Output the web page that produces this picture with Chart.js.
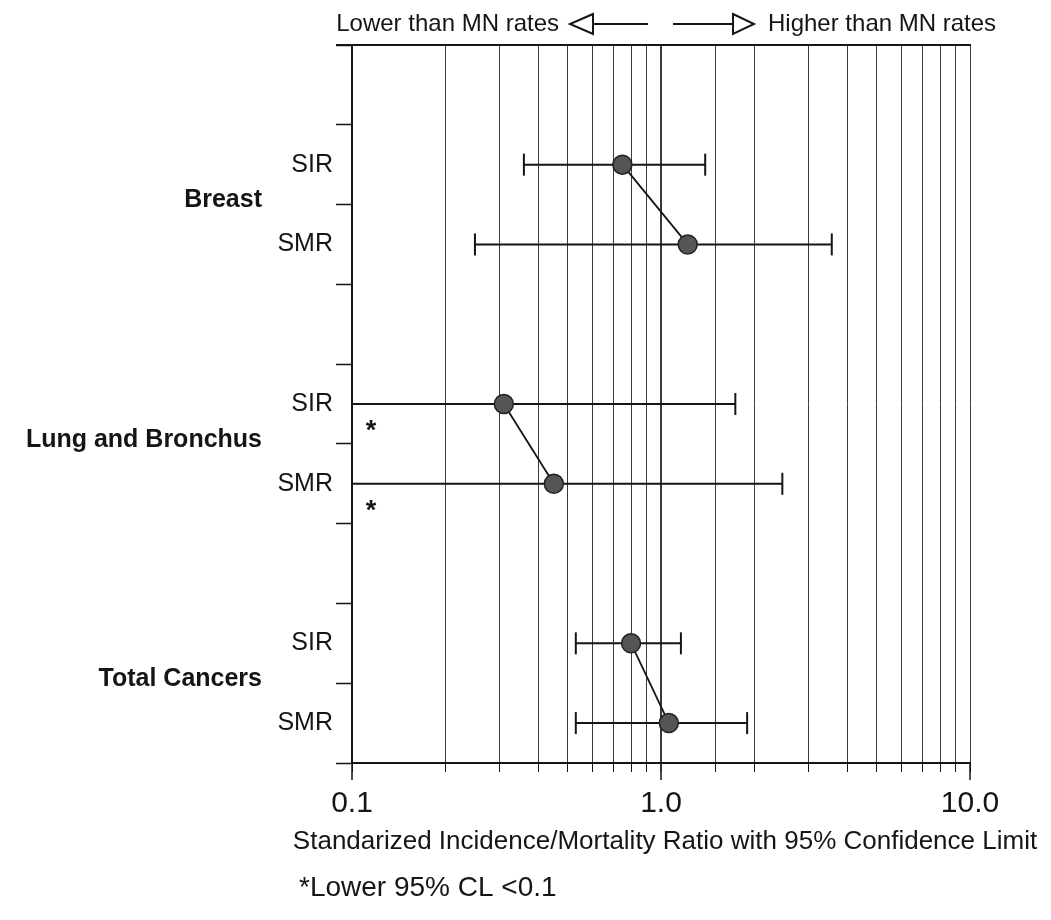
<!DOCTYPE html>
<html>
<head>
<meta charset="utf-8">
<script src="https://cdn.jsdelivr.net/npm/chart.js@4.4.1/dist/chart.umd.min.js"></script>
<style>
  html, body { margin: 0; padding: 0; background: #fff; }
  canvas { display: block; }
</style>
</head>
<body>
<canvas id="chart" width="1051" height="920"></canvas>
<script>
const groups = ["Breast", "Lung and Bronchus", "Total Cancers"];
const measures = ["SIR", "SMR"];
const sirRatio = [0.75, 0.31, 0.80];
const sirLower = [0.36, null, 0.53]; // null = lower 95% CL below 0.1
const sirUpper = [1.39, 1.74, 1.16];
const smrRatio = [1.22, 0.45, 1.06];
const smrLower = [0.25, null, 0.53];
const smrUpper = [3.57, 2.47, 1.90];
const xMin = 0.1;
const xMax = 10;
const xTitle = "Standarized Incidence/Mortality Ratio with 95% Confidence Limit";
const lowerNote = "Lower than MN rates";
const higherNote = "Higher than MN rates";
const footnote = "*Lower 95% CL <0.1";

const FONT = "'Liberation Sans', Arial, Helvetica, sans-serif";
const INK = "#151515";

// every site gets 6 units on the y scale: SIR at +3, SMR at +5, site label at +4
const rows = [];
groups.forEach((g, i) => {
  rows.push({ y: i * 6 + 3, ratio: sirRatio[i], lo: sirLower[i], hi: sirUpper[i] });
  rows.push({ y: i * 6 + 5, ratio: smrRatio[i], lo: smrLower[i], hi: smrUpper[i] });
});

const isDecade = v => v > 0 && Math.abs(Math.log10(v) - Math.round(Math.log10(v))) < 1e-9;

// confidence interval bars, capped at both ends unless the bound runs off the axis
const errorBars = rows.map(r => ({
  type: "line",
  data: [{ x: r.lo == null ? xMin : r.lo, y: r.y }, { x: r.hi, y: r.y }],
  borderColor: INK,
  borderWidth: 2,
  pointStyle: "line",
  pointRotation: 90,
  pointRadius: [r.lo == null ? 0 : 11, 11],
  pointBorderColor: INK,
  pointBorderWidth: 2,
  pointHoverRadius: 0,
  order: 2
}));

// SIR -> SMR connector for each site
const connectors = groups.map((g, i) => ({
  type: "line",
  data: [{ x: sirRatio[i], y: i * 6 + 3 }, { x: smrRatio[i], y: i * 6 + 5 }],
  borderColor: INK,
  borderWidth: 1.8,
  pointRadius: 0,
  order: 1
}));

const markers = {
  type: "scatter",
  data: rows.map(r => ({ x: r.ratio, y: r.y })),
  pointRadius: 9.5,
  backgroundColor: "#555555",
  borderColor: "#222",
  borderWidth: 1.5,
  order: 0
};

const decorations = {
  id: "decorations",
  afterDraw(chart) {
    const { ctx, chartArea: a, scales: { x, y } } = chart;
    ctx.save();
    ctx.strokeStyle = INK;
    ctx.fillStyle = INK;

    // frame top
    ctx.lineWidth = 2;
    ctx.beginPath();
    ctx.moveTo(a.left - 16, a.top);
    ctx.lineTo(a.right + 1, a.top);
    ctx.stroke();

    // longer ticks at the decades
    ctx.lineWidth = 1.5;
    [0.1, 1, 10].forEach(v => {
      const px = x.getPixelForValue(v);
      ctx.beginPath();
      ctx.moveTo(px, a.bottom);
      ctx.lineTo(px, a.bottom + 17);
      ctx.stroke();
    });

    // site labels
    ctx.font = "bold 25px " + FONT;
    ctx.textAlign = "right";
    ctx.textBaseline = "middle";
    groups.forEach((g, i) => {
      ctx.fillText(g, a.left - 90, y.getPixelForValue(i * 6 + 4) - 4);
    });

    // asterisks for bounds below 0.1
    ctx.font = "bold 27px " + FONT;
    ctx.textAlign = "center";
    ctx.textBaseline = "alphabetic";
    rows.forEach(r => {
      if (r.lo == null) {
        ctx.fillText("*", x.getPixelForValue(xMin) + 19, y.getPixelForValue(r.y) + 35);
      }
    });

    // axis title, kept at its natural width
    ctx.font = "26px " + FONT;
    ctx.textBaseline = "middle";
    ctx.fillText(xTitle, (a.left + a.right) / 2 + 4, 842);

    // direction arrows above the plot
    const c = x.getPixelForValue(1);
    const hy = 24;
    ctx.font = "24px " + FONT;
    ctx.textAlign = "right";
    ctx.fillText(lowerNote, c - 102, hy);
    ctx.textAlign = "left";
    ctx.fillText(higherNote, c + 107, hy);
    ctx.lineWidth = 2;
    ctx.beginPath();
    ctx.moveTo(c - 68, hy);
    ctx.lineTo(c - 13, hy);
    ctx.moveTo(c + 12, hy);
    ctx.lineTo(c + 73, hy);
    ctx.stroke();
    ctx.beginPath();
    ctx.moveTo(c - 68, hy - 10);
    ctx.lineTo(c - 91, hy);
    ctx.lineTo(c - 68, hy + 10);
    ctx.closePath();
    ctx.moveTo(c + 72, hy - 10);
    ctx.lineTo(c + 93, hy);
    ctx.lineTo(c + 72, hy + 10);
    ctx.closePath();
    ctx.stroke();

    // footnote
    ctx.font = "28px " + FONT;
    ctx.textAlign = "left";
    ctx.fillText(footnote, 299, 888);
    ctx.restore();
  }
};

new Chart(document.getElementById("chart"), {
  type: "scatter",
  data: { datasets: [markers, ...connectors, ...errorBars] },
  options: {
    responsive: false,
    animation: false,
    layout: { padding: { top: 45, right: 81, bottom: 50, left: 0 } },
    plugins: {
      legend: { display: false },
      tooltip: { enabled: false }
    },
    scales: {
      x: {
        type: "logarithmic",
        position: "bottom",
        min: xMin,
        max: xMax,
        afterFit: s => { s.height = 107; },
        border: { display: true, color: INK, width: 2 },
        grid: {
          color: "#3a3a3a",
          lineWidth: ctx => (ctx.tick && ctx.tick.value === 1 ? 2 : 1),
          tickLength: 9,
          tickWidth: 1,
          tickColor: INK
        },
        ticks: {
          autoSkip: false,
          maxRotation: 0,
          padding: 14,
          color: INK,
          font: { family: FONT, size: 30 },
          callback: v => (isDecade(v) ? v.toFixed(1) : "")
        }
      },
      y: {
        type: "linear",
        min: 0,
        max: 18,
        reverse: true,
        afterFit: s => { s.width = 352; },
        border: { display: true, color: INK, width: 2 },
        grid: {
          drawOnChartArea: false,
          tickLength: 16,
          tickWidth: 1.5,
          tickColor: ctx => (ctx.tick && ctx.tick.value % 2 === 0 ? INK : "rgba(0,0,0,0)")
        },
        ticks: {
          stepSize: 1,
          autoSkip: false,
          padding: 3,
          color: INK,
          font: { family: FONT, size: 25 },
          callback: v => (v % 6 === 3 ? measures[0] : v % 6 === 5 ? measures[1] : "")
        }
      }
    }
  },
  plugins: [decorations]
});
</script>
</body>
</html>
